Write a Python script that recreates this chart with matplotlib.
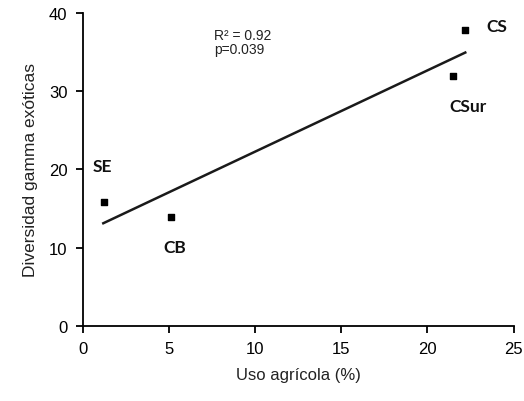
import numpy as np
import matplotlib
matplotlib.use("Agg")
import matplotlib.pyplot as plt

# datos
sitios = ["SE", "CB", "CSur", "CS"]
uso_agricola = [1.24, 5.12, 21.5, 22.2]
diversidad = [15.9, 13.95, 31.9, 37.8]
# posicion de las etiquetas de cada sitio
etiqueta_x = [1.12, 5.35, 22.35, 24.05]
etiqueta_y = [20.4, 10.1, 28.1, 38.4]

plt.rcParams['font.family'] = ['Liberation Sans', 'DejaVu Sans']

fig = plt.figure(figsize=(5.24, 4.02), dpi=100)
ax = fig.add_axes([0.158, 0.187, 0.822, 0.778])

ax.scatter(uso_agricola, diversidad, marker="s", s=22, color="black", zorder=3)

# recta de regresion
pend, orig = np.polyfit(uso_agricola, diversidad, 1)
xr = np.array([min(uso_agricola) - 0.05, max(uso_agricola)])
ax.plot(xr, pend * xr + orig, color="#1a1a1a", lw=1.8)

for s, x, y in zip(sitios, etiqueta_x, etiqueta_y):
    ax.text(x, y, s, ha="center", va="center", fontsize=12.5,
            fontweight="bold", family=["Lato", "DejaVu Sans"], color="#111111")

ax.text(7.6, 36.3, "R² = 0.92\np=0.039", fontsize=10, va="center",
        linespacing=1.0, color="#222222")

ax.set_xlim(0, 25)
ax.set_ylim(0, 40)
ax.set_xticks([0, 5, 10, 15, 20, 25])
ax.set_yticks([0, 10, 20, 30, 40])
ax.spines["top"].set_visible(False)
ax.spines["right"].set_visible(False)
for sp in ["left", "bottom"]:
    ax.spines[sp].set_linewidth(1.3)
ax.tick_params(direction="out", length=5, width=1.3, labelsize=12, pad=6)

ax.set_xlabel("Uso agrícola (%)", fontsize=12, labelpad=8, color="#222222")
ax.set_ylabel("Diversidad gamma exóticas", fontsize=12.5, labelpad=8, color="#222222")

fig.savefig("out.png", dpi=100)
